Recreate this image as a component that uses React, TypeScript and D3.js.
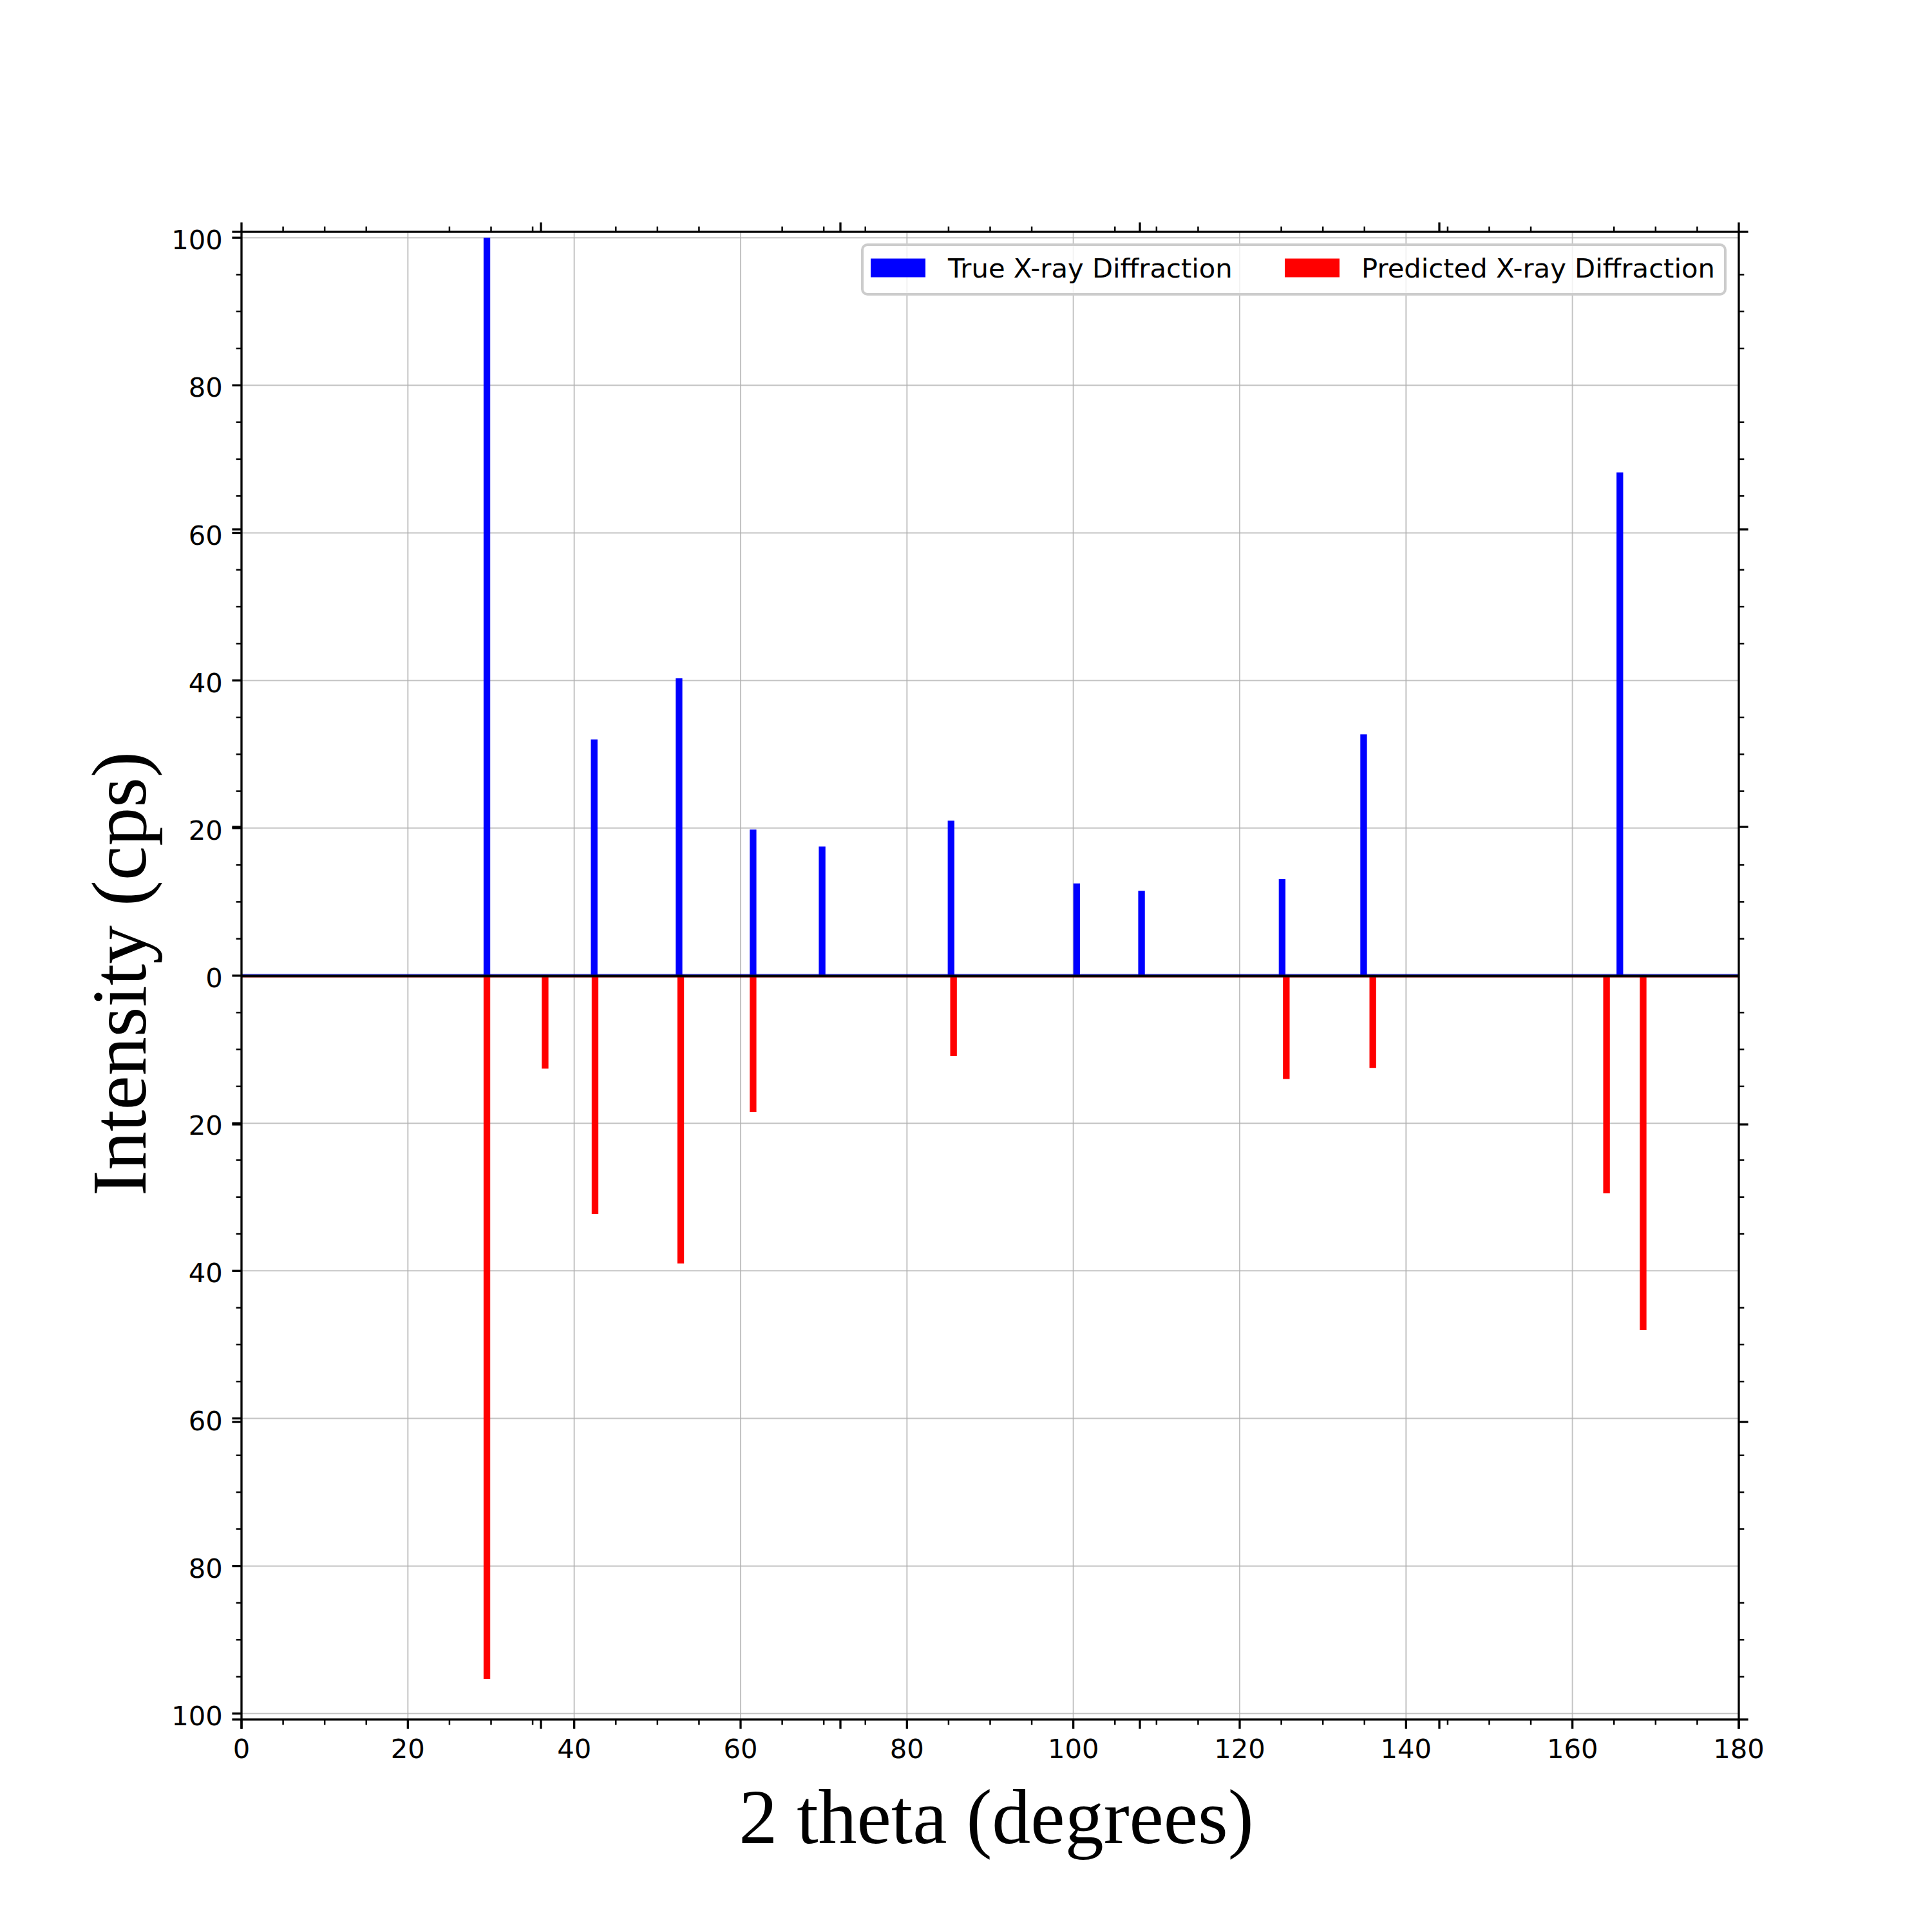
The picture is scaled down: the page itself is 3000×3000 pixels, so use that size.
import React from 'react';
import * as d3 from 'd3';

// peak positions (2 theta, degrees) and intensities (cps)
const trueTheta = [29.5, 42.4, 52.6, 61.5, 69.8, 85.3, 100.4, 108.2, 125.1, 134.9, 165.7];
const trueIntensity = [100, 32.0, 40.3, 19.8, 17.5, 21.0, 12.5, 11.5, 13.1, 32.7, 68.2];

const predTheta = [29.5, 36.5, 42.5, 52.8, 61.5, 85.6, 125.6, 136.0, 164.1, 168.5];
const predIntensity = [95.3, 12.6, 32.3, 39.0, 18.5, 10.9, 14.0, 12.5, 29.5, 48.0];

const xTicks = [0, 20, 40, 60, 80, 100, 120, 140, 160, 180];
const yTicks = [-100, -80, -60, -40, -20, 0, 20, 40, 60, 80, 100];

const legendLabels = ['True X-ray Diffraction', 'Predicted X-ray Diffraction'];

const W = 3000;
const H = 3000;
const margin = { left: 375, right: 300, top: 360, bottom: 330 };
const BAR_W = 0.8;

const MAJOR = 14.6;
const MINOR = 8.3;
const MAJOR_W = 3.3;
const MINOR_W = 2.5;

const App: React.FC = () => {
  const x0 = margin.left;
  const x1 = W - margin.right;
  const y0 = margin.top;
  const y1 = H - margin.bottom;

  const x = d3.scaleLinear().domain([0, 180]).range([x0, x1]);
  const y = d3.scaleLinear().domain([-100.8, 100.8]).range([y1, y0]);

  // minor ticks every 5, skipping the majors
  const xMinor = d3.range(0, 181, 5).filter((v) => v % 20 !== 0);
  const yMinor = d3.range(-100, 101, 5).filter((v) => v % 20 !== 0);
  // second (twin) axes: 5 equal intervals, no labels
  const fracs = [0, 0.2, 0.4, 0.6, 0.8, 1];

  const zero = y(0);

  return (
    <svg
      width={W}
      height={H}
      style={{ position: 'absolute', left: 0, top: 0, background: '#fff' }}
    >
      <rect x={0} y={0} width={W} height={H} fill="#fff" />

      {/* grid */}
      <g stroke="#b0b0b0" strokeOpacity={0.75} strokeWidth={2}>
        {xTicks.map((t) => (
          <line key={'gx' + t} x1={x(t)} x2={x(t)} y1={y0} y2={y1} />
        ))}
        {yTicks.map((t) => (
          <line key={'gy' + t} x1={x0} x2={x1} y1={y(t)} y2={y(t)} />
        ))}
      </g>

      {/* bars */}
      <g fill="#0000ff">
        {trueTheta.map((t, i) => (
          <rect
            key={'b' + i}
            x={x(t - BAR_W / 2)}
            width={x(BAR_W) - x(0)}
            y={y(trueIntensity[i])}
            height={zero - y(trueIntensity[i])}
          />
        ))}
      </g>
      <g fill="#ff0000">
        {predTheta.map((t, i) => (
          <rect
            key={'r' + i}
            x={x(t - BAR_W / 2)}
            width={x(BAR_W) - x(0)}
            y={zero}
            height={y(-predIntensity[i]) - zero}
          />
        ))}
      </g>

      {/* zero line */}
      <line x1={x0} x2={x1} y1={zero - 2} y2={zero - 2} stroke="#0000ff" strokeOpacity={0.6} strokeWidth={2} />
      <line x1={x0} x2={x1} y1={zero + 2.5} y2={zero + 2.5} stroke="#ff0000" strokeOpacity={0.4} strokeWidth={2} />
      <line x1={x0} x2={x1} y1={zero + 0.5} y2={zero + 0.5} stroke="#000" strokeWidth={4} />

      {/* legend */}
      <g>
        <rect
          x={1339}
          y={380}
          width={2679 - 1339}
          height={77}
          rx={8}
          fill="#fff"
          fillOpacity={0.8}
          stroke="#cccccc"
          strokeWidth={4}
        />
        <rect x={1352} y={401.5} width={85} height={29} fill="#0000ff" />
        <rect x={1995} y={401.5} width={85} height={29} fill="#ff0000" />
        <g fontFamily="DejaVu Sans" fontSize={41.7} fill="#000">
          <text x={1472} y={431}>{legendLabels[0]}</text>
          <text x={2114} y={431}>{legendLabels[1]}</text>
        </g>
      </g>

      {/* spines */}
      <rect
        x={x0}
        y={y0}
        width={x1 - x0}
        height={y1 - y0}
        fill="none"
        stroke="#000"
        strokeWidth={3.3}
      />

      {/* ticks */}
      <g stroke="#000">
        {xTicks.map((t) => (
          <line key={'xb' + t} x1={x(t)} x2={x(t)} y1={y1} y2={y1 + MAJOR} strokeWidth={MAJOR_W} />
        ))}
        {xMinor.map((t) => (
          <g key={'xm' + t} strokeWidth={MINOR_W}>
            <line x1={x(t)} x2={x(t)} y1={y1} y2={y1 + MINOR} />
            <line x1={x(t)} x2={x(t)} y1={y0} y2={y0 - MINOR} />
          </g>
        ))}
        {yTicks.map((t) => (
          <line key={'yl' + t} x1={x0} x2={x0 - MAJOR} y1={y(t)} y2={y(t)} strokeWidth={MAJOR_W} />
        ))}
        {yMinor.map((t) => (
          <g key={'ym' + t} strokeWidth={MINOR_W}>
            <line x1={x0} x2={x0 - MINOR} y1={y(t)} y2={y(t)} />
            <line x1={x1} x2={x1 + MINOR} y1={y(t)} y2={y(t)} />
          </g>
        ))}
        {fracs.map((f) => {
          const tx = x0 + f * (x1 - x0);
          const ty = y1 - f * (y1 - y0);
          return (
            <g key={'tw' + f} strokeWidth={MAJOR_W}>
              <line x1={tx} x2={tx} y1={y1} y2={y1 + MAJOR} />
              <line x1={tx} x2={tx} y1={y0} y2={y0 - MAJOR} />
              <line x1={x0} x2={x0 - MAJOR} y1={ty} y2={ty} />
              <line x1={x1} x2={x1 + MAJOR} y1={ty} y2={ty} />
            </g>
          );
        })}
      </g>

      {/* tick labels */}
      <g fontFamily="DejaVu Sans" fontSize={41.7} fill="#000">
        {xTicks.map((t) => (
          <text key={'xl' + t} x={x(t)} y={y1 + MAJOR + 14.6 + 31} textAnchor="middle">
            {t}
          </text>
        ))}
        {yTicks.map((t) => (
          <text key={'yt' + t} x={x0 - MAJOR - 14.6} y={y(t) + 18} textAnchor="end">
            {Math.abs(t)}
          </text>
        ))}
      </g>

      {/* axis labels */}
      <text
        x={1547}
        y={2862}
        textAnchor="middle"
        fontFamily="Liberation Serif"
        fontSize={120}
        fill="#000"
      >
        2 theta (degrees)
      </text>
      <text
        transform={`translate(226, ${(y0 + y1) / 2 - 3}) rotate(-90)`}
        textAnchor="middle"
        fontFamily="Liberation Serif"
        fontSize={120}
        fill="#000"
      >
        Intensity (cps)
      </text>
    </svg>
  );
};

export default App;
